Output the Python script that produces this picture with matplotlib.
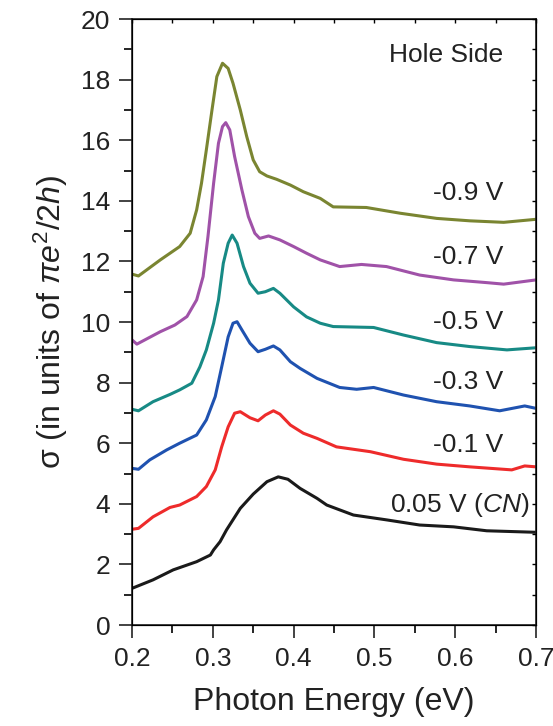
import numpy as np
import matplotlib
matplotlib.use('Agg')
import matplotlib.pyplot as plt

plt.rcParams['font.family'] = ['Liberation Sans', 'DejaVu Sans']
plt.rcParams['mathtext.fontset'] = 'custom'
plt.rcParams['mathtext.rm'] = 'Liberation Sans'
plt.rcParams['mathtext.it'] = 'Liberation Sans:italic'

# 0.05 V (CN)
x_cn = [0.200, 0.226, 0.251, 0.280, 0.297, 0.301, 0.309, 0.317, 0.334, 0.350, 0.367,
        0.381, 0.393, 0.408, 0.429, 0.441, 0.474, 0.515, 0.556, 0.598, 0.639, 0.700]
y_cn = [1.21, 1.49, 1.82, 2.09, 2.31, 2.48, 2.75, 3.14, 3.85, 4.32, 4.73,
        4.89, 4.81, 4.51, 4.18, 3.96, 3.63, 3.47, 3.30, 3.24, 3.11, 3.06]

# -0.1 V
x_01 = [0.200, 0.208, 0.226, 0.247, 0.259, 0.280, 0.292, 0.303, 0.311, 0.319, 0.327,
        0.334, 0.346, 0.356, 0.365, 0.375, 0.383, 0.396, 0.412, 0.429, 0.453, 0.495,
        0.536, 0.577, 0.618, 0.670, 0.686, 0.700]
y_01 = [3.16, 3.19, 3.57, 3.88, 3.96, 4.24, 4.57, 5.12, 5.88, 6.54, 6.99,
        7.04, 6.84, 6.74, 6.93, 7.07, 6.96, 6.60, 6.33, 6.16, 5.88, 5.72,
        5.47, 5.31, 5.22, 5.12, 5.25, 5.22]

# -0.3 V
x_03 = [0.200, 0.208, 0.222, 0.243, 0.259, 0.280, 0.292, 0.303, 0.311, 0.319, 0.325,
        0.330, 0.336, 0.346, 0.356, 0.365, 0.375, 0.383, 0.396, 0.408, 0.429, 0.457,
        0.478, 0.499, 0.536, 0.577, 0.618, 0.655, 0.686, 0.700]
y_03 = [5.17, 5.14, 5.45, 5.78, 6.00, 6.27, 6.77, 7.54, 8.52, 9.51, 9.96,
        10.01, 9.74, 9.30, 9.02, 9.10, 9.21, 9.08, 8.69, 8.47, 8.14, 7.84,
        7.78, 7.84, 7.59, 7.37, 7.23, 7.07, 7.23, 7.15]

# -0.5 V
x_05 = [0.200, 0.208, 0.226, 0.247, 0.259, 0.274, 0.284, 0.292, 0.301, 0.307, 0.313,
        0.319, 0.324, 0.330, 0.338, 0.346, 0.356, 0.365, 0.375, 0.383, 0.400, 0.416,
        0.433, 0.449, 0.499, 0.536, 0.577, 0.618, 0.664, 0.700]
y_05 = [7.12, 7.07, 7.37, 7.61, 7.76, 7.98, 8.52, 9.08, 9.96, 10.73, 11.94,
        12.60, 12.87, 12.60, 11.83, 11.28, 10.95, 11.00, 11.11, 10.95, 10.50, 10.17,
        9.96, 9.85, 9.82, 9.57, 9.32, 9.19, 9.08, 9.15]

# -0.7 V
x_07 = [0.200, 0.206, 0.235, 0.253, 0.268, 0.280, 0.288, 0.294, 0.301, 0.307, 0.312,
        0.316, 0.321, 0.327, 0.336, 0.344, 0.352, 0.358, 0.369, 0.383, 0.400, 0.416,
        0.433, 0.457, 0.484, 0.515, 0.556, 0.598, 0.639, 0.660, 0.700]
y_07 = [9.41, 9.27, 9.68, 9.90, 10.18, 10.73, 11.50, 12.82, 14.58, 15.90, 16.45,
        16.58, 16.34, 15.46, 14.36, 13.48, 12.93, 12.76, 12.84, 12.71, 12.49, 12.27,
        12.05, 11.83, 11.90, 11.83, 11.55, 11.39, 11.30, 11.25, 11.39]

# -0.9 V
x_09 = [0.200, 0.208, 0.235, 0.259, 0.272, 0.280, 0.286, 0.292, 0.299, 0.305, 0.312,
        0.319, 0.325, 0.334, 0.342, 0.350, 0.358, 0.367, 0.379, 0.396, 0.412, 0.433,
        0.449, 0.490, 0.532, 0.577, 0.618, 0.660, 0.700]
y_09 = [11.58, 11.52, 12.05, 12.49, 12.93, 13.70, 14.58, 15.68, 17.00, 18.10, 18.54,
        18.37, 17.88, 17.00, 16.12, 15.35, 14.96, 14.82, 14.71, 14.52, 14.30, 14.08,
        13.80, 13.78, 13.59, 13.42, 13.34, 13.29, 13.39]

labels = ['0.05 V ($\\mathit{CN}$)', '-0.1 V', '-0.3 V', '-0.5 V', '-0.7 V', '-0.9 V']
label_y = [3.96, 5.94, 8.03, 10.0, 12.15, 14.25]
colors = ['#1a1a1a', '#ee2b2b', '#1f52b0', '#178a85', '#a052a8', '#7a8531']

series = [(x_cn, y_cn), (x_01, y_01), (x_03, y_03), (x_05, y_05), (x_07, y_07), (x_09, y_09)]

fig = plt.figure(figsize=(5.53, 7.26), dpi=100)
ax = fig.add_axes([0.2387, 0.1391, 0.7306, 0.8347])

for (xs, ys), c in zip(series, colors):
    ax.plot(xs, ys, color=c, lw=2.2, solid_joinstyle='round')

for lab, ly in zip(labels, label_y):
    if 'CN' in lab:
        ax.text(0.692, ly, lab, ha='right', va='center', fontsize=19, color='#222222')
    else:
        ax.text(0.66, ly, lab, ha='right', va='center', fontsize=19, color='#222222')

ax.text(0.659, 18.8, 'Hole Side', ha='right', va='center', fontsize=19, color='#222222')

ax.set_xlim(0.2, 0.7)
ax.set_ylim(0, 20)
ax.set_xticks(np.arange(0.2, 0.71, 0.1))
ax.set_xticklabels(['0.2', '0.3', '0.4', '0.5', '0.6', '0.7'])
ax.set_xticks(np.arange(0.25, 0.7, 0.1), minor=True)
ax.set_yticks(np.arange(0, 21, 2))
ax.set_yticks(np.arange(1, 20, 2), minor=True)

ax.tick_params(which='major', direction='out', length=9.5, width=1.2, labelsize=19,
               colors='#222222', pad=6)
ax.tick_params(which='minor', direction='out', length=5.5, width=1.2)
for sp in ax.spines.values():
    sp.set_linewidth(1.2)
    sp.set_color('#222222')

# small inward ticks on top and right
ax2 = ax.twinx()
ax2.set_ylim(0, 20)
ax2.set_yticks(np.arange(0, 21, 2))
ax2.set_yticks(np.arange(1, 20, 2), minor=True)
ax2.tick_params(which='both', direction='in', length=3, width=1.0, labelright=False)
ax3 = ax.twiny()
ax3.set_xlim(0.2, 0.7)
ax3.set_xticks(np.arange(0.2, 0.71, 0.1))
ax3.set_xticks(np.arange(0.25, 0.7, 0.1), minor=True)
ax3.tick_params(which='both', direction='in', length=3, width=1.0, labeltop=False)

ax.set_xlabel('Photon Energy (eV)', fontsize=23, color='#222222', labelpad=12)
ax.set_ylabel('σ (in units of $\\pi e^{2}/2h$)', fontsize=23, color='#222222', labelpad=8)

fig.savefig('out.png', dpi=100)
